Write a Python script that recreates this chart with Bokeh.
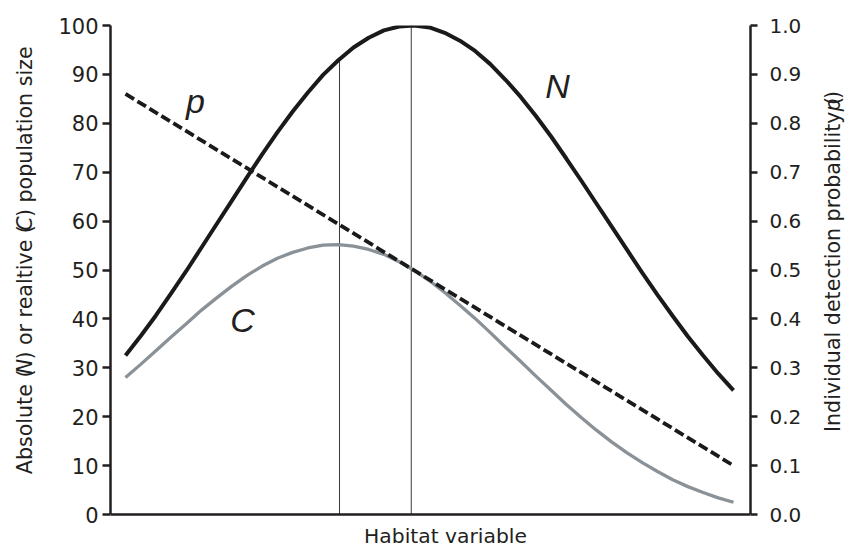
import math
from bokeh.plotting import figure
from bokeh.layouts import row
from bokeh.models import Range1d, LinearAxis, FixedTicker, Label, NumeralTickFormatter, Span
from bokeh.core.properties import value
from bokeh.embed import file_html
from bokeh.resources import INLINE

# ---------------- data ----------------
habitat = [0, 2.5, 5, 7.5, 10, 12.5, 15, 17.5, 20, 22.5, 25, 27.5, 30, 32.5, 35, 37.5,
           40, 42.5, 45, 47.5, 50, 52.5, 55, 57.5, 60, 62.5, 65, 67.5, 70, 72.5, 75,
           77.5, 80, 82.5, 85, 87.5, 90, 92.5, 95, 97.5, 100]
N_abs = [32.5, 36.5, 40.7, 45.2, 49.8, 54.6, 59.4, 64.2, 69.0, 73.7, 78.2, 82.4, 86.3,
         89.9, 92.9, 95.5, 97.5, 99.0, 99.8, 100.0, 99.6, 98.5, 96.9, 94.8, 92.1, 88.9,
         85.4, 81.5, 77.3, 72.8, 68.2, 63.5, 58.8, 54.1, 49.4, 44.9, 40.6, 36.4, 32.5,
         28.8, 25.4]
C_rel = [28.0, 30.7, 33.5, 36.3, 39.0, 41.8, 44.3, 46.7, 48.9, 50.8, 52.4, 53.6, 54.5,
         55.1, 55.2, 54.9, 54.2, 53.2, 51.7, 49.9, 47.8, 45.4, 42.8, 40.1, 37.2, 34.2,
         31.3, 28.3, 25.4, 22.5, 19.8, 17.2, 14.8, 12.6, 10.6, 8.8, 7.1, 5.7, 4.5, 3.4,
         2.5]
p_x = [0, 100]
p_det = [0.86, 0.10]
marker_x = [35.2, 47.0]
marker_base = [0, 0]
marker_top = [92.9, 100.0]
left_ticks = [0, 10, 20, 30, 40, 50, 60, 70, 80, 90, 100]
right_ticks = [0.0, 0.1, 0.2, 0.3, 0.4, 0.5, 0.6, 0.7, 0.8, 0.9, 1.0]
curve_names = ["N", "C", "p"]

# ---------------- layout / styling ----------------
INK = "#231f20"
FONT = "DejaVu Sans"
VTITLE_SIZE = 20.6
HTITLE_SIZE = 20.3
NAME_SIZE = 34
MID = 0.346          # em distance from alphabetic baseline up to the em-box middle
PAGE_W, PAGE_H = 849, 549
LW, RW = 45, 44                       # side strips holding the vertical titles
MAIN_W = PAGE_W - LW - RW
X0, X1 = -2.467, 102.796
FRAME_L, FRAME_R, FRAME_T, FRAME_B = 110, 750, 25, 514  # page pixels of the 0..100 box

def xd(px):
    return X0 + (px - FRAME_L) * (X1 - X0) / (FRAME_R - FRAME_L)

def yd(py):
    return (FRAME_B - py) * 100.0 / (FRAME_B - FRAME_T)

Y_LOW = yd(PAGE_H)   # frame is extended down to the page bottom

# where the italic curve names sit (page pixels: centre x, baseline y)
name_pos = [(557, 97), (242, 331), (195, 112.6)]

# DejaVu Sans advance widths (per 1000 em)
W = {" ": 318, "A": 684, "b": 635, "s": 521, "o": 612, "l": 278, "u": 634, "t": 392,
     "e": 615, "(": 390, ")": 390, "N": 748, "r": 411, "a": 613, "i": 278, "v": 592,
     "C": 698, "p": 635, "n": 634, "z": 525, "I": 295, "d": 635, "c": 550, "y": 592,
     "H": 752}

def tw(s, size=VTITLE_SIZE):
    return sum(W[ch] for ch in s) * size / 1000.0

p = figure(width=MAIN_W, height=PAGE_H, output_backend="svg", toolbar_location=None,
           x_range=Range1d(X0, X1), y_range=Range1d(Y_LOW, 100),
           x_axis_location=None,
           min_border_left=FRAME_L - LW, min_border_right=LW + MAIN_W - FRAME_R,
           min_border_top=FRAME_T, min_border_bottom=0,
           background_fill_color="white", border_fill_color="white")
p.outline_line_color = None
p.grid.visible = False

# left axis
ya = p.yaxis[0]
ya.ticker = FixedTicker(ticks=left_ticks)
ya.bounds = (0, 100)
ya.axis_line_width = 2.5
ya.axis_line_color = INK
ya.major_tick_line_width = 2.5
ya.major_tick_line_color = INK
ya.major_tick_out = 8
ya.major_tick_in = 0
ya.minor_tick_line_color = None
ya.major_label_standoff = 4
ya.major_label_text_font = FONT
ya.major_label_text_font_size = "21px"
ya.major_label_text_color = INK

# right axis
p.extra_y_ranges = {"prob": Range1d(Y_LOW / 100.0, 1)}
ra = LinearAxis(y_range_name="prob", ticker=FixedTicker(ticks=right_ticks),
                formatter=NumeralTickFormatter(format="0.0"), bounds=(0, 1))
ra.axis_line_width = 2.5
ra.axis_line_color = INK
ra.major_tick_line_width = 2.5
ra.major_tick_line_color = INK
ra.major_tick_out = 7
ra.major_tick_in = 0
ra.minor_tick_line_color = None
ra.major_label_standoff = 12
ra.major_label_text_font = FONT
ra.major_label_text_font_size = "20px"
ra.major_label_text_color = INK
p.add_layout(ra, "right")

# bottom axis line (habitat axis has no ticks)
p.add_layout(Span(location=0, dimension="width", line_color=INK, line_width=2.5))

# marks
p.segment(x0=marker_x, y0=marker_base, x1=marker_x, y1=marker_top,
          line_color="#3a3a3a", line_width=1)
p.line(habitat, C_rel, line_color="#8a9197", line_width=3.3)
p.line(habitat, N_abs, line_color="#1a1a1a", line_width=4)
p.line(p_x, p_det, y_range_name="prob", line_color="#1a1a1a", line_width=3.8,
       line_dash="10 4")

for name, (cx, by) in zip(curve_names, name_pos):
    p.add_layout(Label(x=xd(cx), y=yd(by - MID * NAME_SIZE), text=name,
                       text_font="Liberation Sans", text_font_style="italic",
                       text_font_size=f"{NAME_SIZE}px", text_color=INK,
                       text_align="center", text_baseline="middle"))

# x-axis title, inside the extended frame
p.text(x=[xd(445)], y=[yd(543 - MID * HTITLE_SIZE)], text=["Habitat variable"],
       text_font=value(FONT), text_font_size=value(f"{HTITLE_SIZE}px"), text_color=INK,
       text_align="center", text_baseline="middle")


def strip(width, x_offset, pieces, x_img, center_img):
    s = figure(width=width, height=PAGE_H, output_backend="svg", toolbar_location=None,
               x_range=Range1d(0, width), y_range=Range1d(0, PAGE_H),
               x_axis_location=None, y_axis_location=None, min_border=0,
               min_border_left=0, min_border_right=0, min_border_top=0,
               min_border_bottom=0, background_fill_color="white",
               border_fill_color="white")
    s.outline_line_color = None
    s.grid.visible = False
    total = sum(tw(t) for t, _ in pieces)
    start = center_img + total / 2.0
    for t, style in pieces:
        s.text(x=[x_img - MID * VTITLE_SIZE - x_offset], y=[PAGE_H - start], text=[t],
               angle=math.pi / 2, text_font=value(FONT), text_font_style=value(style),
               text_font_size=value(f"{VTITLE_SIZE}px"), text_color=INK,
               text_align="left", text_baseline="middle")
        start -= tw(t)
    return s


left = strip(LW, 0, [("Absolute (", "normal"), ("N", "italic"), (") or realtive (", "normal"),
                     ("C", "italic"), (") population size", "normal")], 32, 250)
right = strip(RW, LW + MAIN_W, [("Individual detection probability (", "normal"),
                                ("p", "italic"), (")", "normal")], 840, 247.5)

layout = row(left, p, right, spacing=0)
open("out.html", "w").write(file_html(layout, INLINE))
